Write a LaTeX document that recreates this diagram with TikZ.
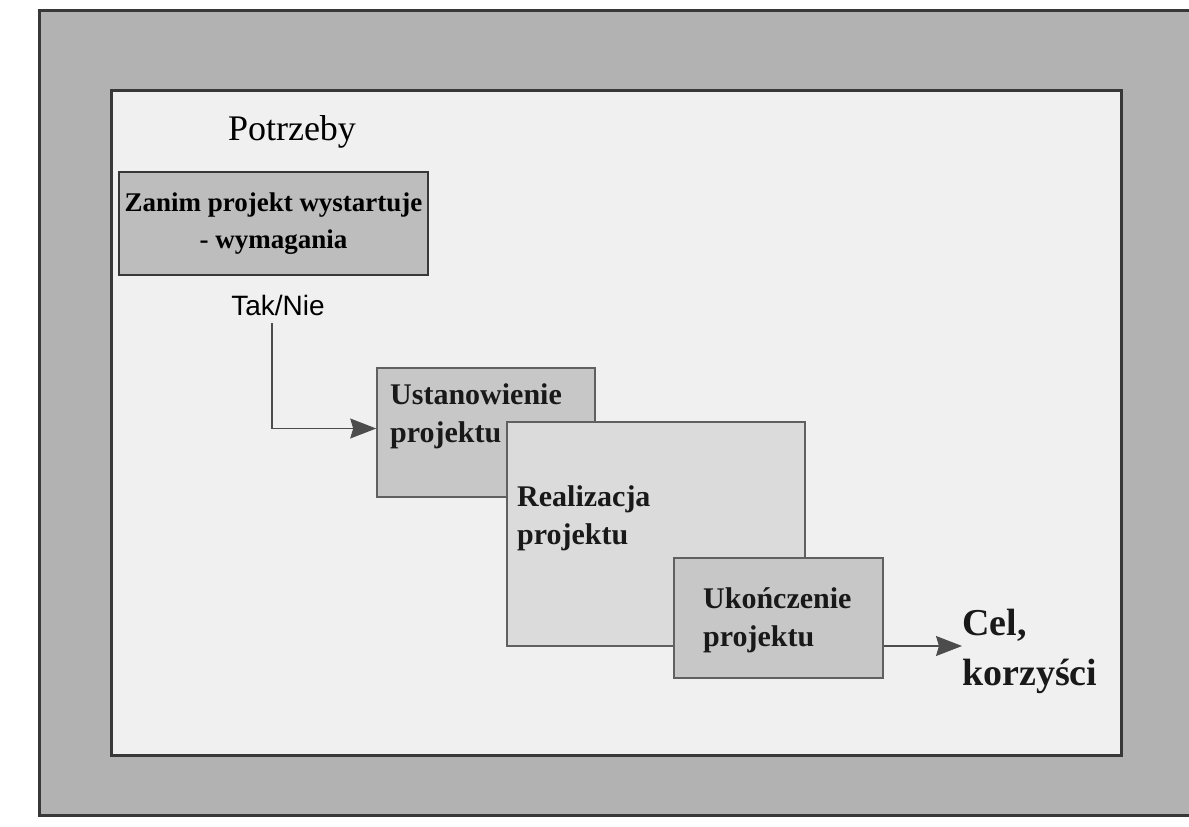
\documentclass[tikz,border=0pt]{standalone}
\usepackage{fontspec}
\setmainfont{Liberation Serif}
\setsansfont{Liberation Sans}
\usetikzlibrary{arrows.meta}

\definecolor{pagegray}{gray}{0.70}
\definecolor{innerwhite}{gray}{0.94}
\definecolor{framegray}{gray}{0.22}
\definecolor{reqfill}{gray}{0.74}
\definecolor{phasefill}{gray}{0.78}
\definecolor{realfill}{gray}{0.86}

\begin{document}
\begin{tikzpicture}[x=1pt,y=-1pt,
  frame/.style={draw=framegray,line width=3pt},
  reqbox/.style={draw=framegray,line width=2pt,fill=reqfill,align=center,
    font=\bfseries\fontsize{27}{37}\selectfont},
  phasebox/.style={draw=framegray!80,line width=1.6pt,fill=phasefill},
  phasetext/.style={anchor=north west,align=left,inner sep=0pt,
    font=\bfseries\fontsize{30}{38}\selectfont,text=black!90},
  flow/.style={draw=black!70,line width=1.1pt,-{Stealth[length=26pt,width=20pt,inset=3pt]}}]
\tikzstyle{every node}+=[inner sep=0pt]
\useasboundingbox (0,0) rectangle (1189,827);
\fill [white] (0,0) rectangle (1189,827);
% page and frame
\fill [pagegray] (39,10) rectangle (1189,815);
\draw [frame] (1189,10) -- (39,10) -- (39,815) -- (1189,815);
\draw [frame,fill=innerwhite] (111,90) rectangle (1121,755);
% titles
\node (potrzeby) [anchor=base,font=\fontsize{36}{40}\selectfont] at (292,140) {Potrzeby};
\node (wym) [reqbox,minimum width=309,minimum height=103] at (273.5,223.5) {Zanim projekt wystartuje\\- wymagania};
\node (taknie) [anchor=base,font=\sffamily\fontsize{28}{32}\selectfont] at (278,315) {Tak/Nie};
% phases
\node (ust) [phasebox,minimum width=218,minimum height=129] at (486,432.5) {};
\node (ust-t) [phasetext] at (390,383) {Ustanowienie\\projektu};
\node (real) [phasebox,fill=realfill,minimum width=298,minimum height=224] at (656,534) {};
\node (real-t) [phasetext] at (517,485) {Realizacja\\projektu};
\node (ukon) [phasebox,minimum width=209,minimum height=120] at (778.5,618) {};
\node (ukon-t) [phasetext] at (703,587) {Ukończenie\\projektu};
\node (cel) [anchor=north west,align=left,font=\bfseries\fontsize{38}{50}\selectfont,text=black!90] at (962,609) {Cel,\\korzyści};
% connectors
\draw [flow] ([xshift=-6pt,yshift=-8pt]taknie.south) |- ([yshift=4pt]ust.west);
\draw [flow] ([yshift=-28pt]ukon.east) -- ([yshift=-28pt]ukon.east -| cel.west);
\end{tikzpicture}
\end{document}
